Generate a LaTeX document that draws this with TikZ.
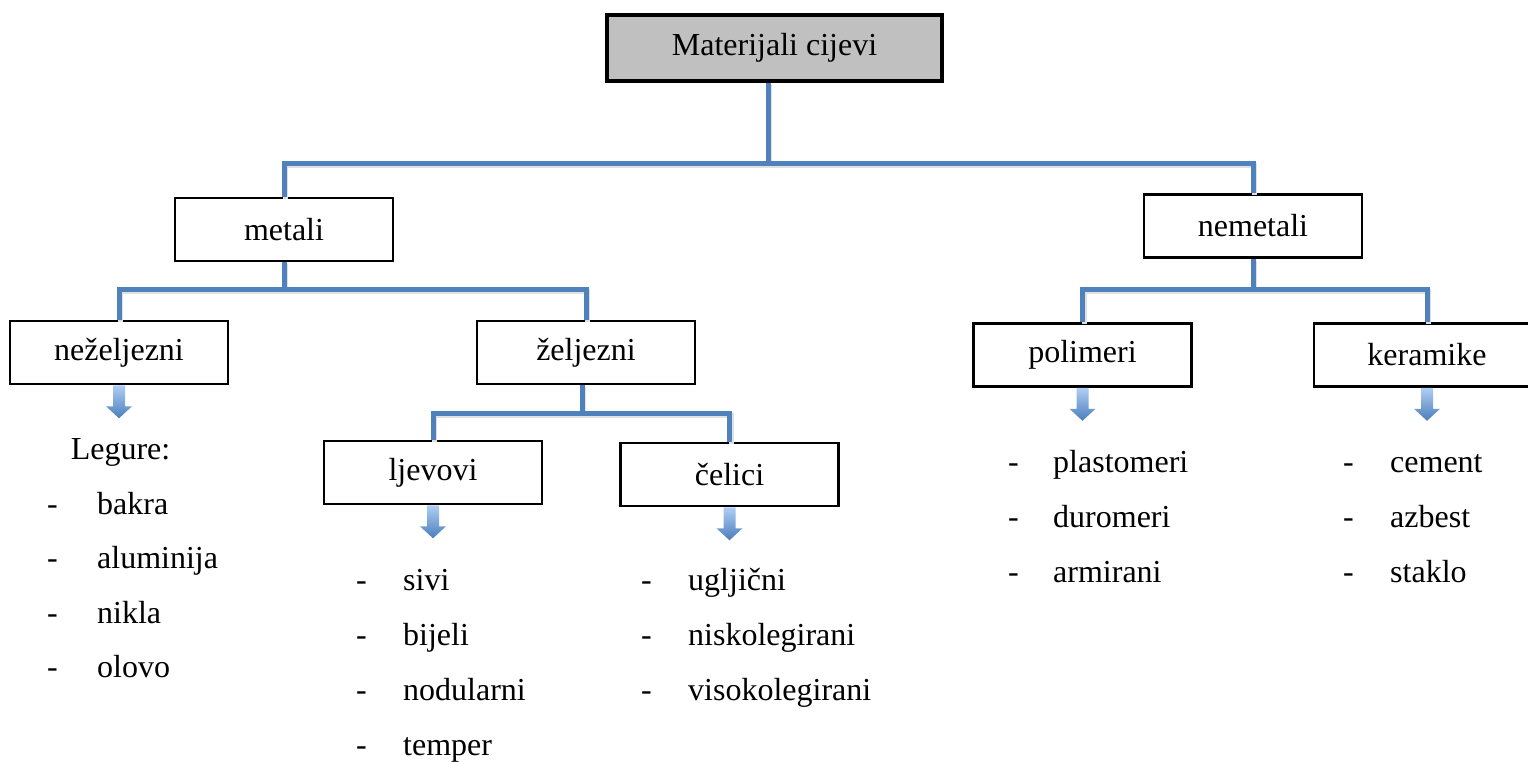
\documentclass[tikz,border=0pt]{standalone}
\usepackage{fontspec}
\setmainfont{Liberation Serif}
\definecolor{linecol}{HTML}{4F81BD}
\definecolor{boxgray}{HTML}{C0C0C0}
\definecolor{arrowtop}{HTML}{B0CEF4}
\definecolor{arrowbot}{HTML}{4A7EBB}
\tikzset{
  box/.style={draw=black, line width=2.6bp, minimum width=218bp, minimum height=63bp,
    inner sep=0pt, font=\fontsize{32bp}{38bp}\selectfont},
  rootbox/.style={box, fill=boxgray, line width=3.8bp, minimum width=335bp, minimum height=66bp},
  branch/.style={draw=linecol, line width=5bp,
    preaction={draw=black!12, line width=5bp, transform canvas={shift={(1.5bp,-2bp)}}}},
  item/.style={anchor=base west, inner sep=0pt, font=\fontsize{32bp}{38bp}\selectfont},
  blockarrow/.style={top color=arrowtop, bottom color=arrowbot, draw=none},
}
% block arrow under a box
\newcommand{\listarrow}[1]{%
  \shade[blockarrow] ([xshift=-6bp]#1.south) -- ++(0,21) -- ++(-7,0) -- ++(13,12)
    -- ++(13,-12) -- ++(-7,0) -- ++(0,-21) -- cycle;}
\begin{document}
\begin{tikzpicture}[x=1bp,y=-1bp,line join=miter]
\useasboundingbox (0,0) rectangle (1528,762);
%%
  % Node: Materijali cijevi
  \node[rootbox] (root) at (774.5,48) {Materijali cijevi};
  % Node: metali
  \node[box] (metali) at (284,229.5) {metali};
  % Node: nemetali
  \node[box] (nemetali) at (1253,226) {nemetali};
  % Node: neželjezni
  \node[box] (nezeljezni) at (119,352.5) {neželjezni};
  % Node: željezni
  \node[box] (zeljezni) at (586,352.5) {željezni};
  % Node: ljevovi
  \node[box] (ljevovi) at (433,472.5) {ljevovi};
  % Node: čelici
  \node[box] (celici) at (729.5,474.5) {čelici};
  % Node: polimeri
  \node[box] (polimeri) at (1082.5,355) {polimeri};
  % Node: keramike
  \node[box, minimum width=226bp] (keramike) at (1427,355) {keramike};
%%
  \coordinate (jroot) at (768,163);
  \coordinate (jmet) at (metali.south |- 0,289);
  \coordinate (jzel) at (582,413);
  \coordinate (jnem) at (nemetali.south |- 0,289);
  % Edge: Materijali cijevi -> metali, nemetali
  \draw[branch] (root.south -| jroot) -- (jroot);
  \draw[branch] (metali.north) |- (jroot) -| (nemetali.north);
  % Edge: metali -> neželjezni, željezni
  \draw[branch] (metali) -- (jmet);
  \draw[branch] (nezeljezni.north) |- (jmet) -| (zeljezni.north);
  % Edge: željezni -> ljevovi, čelici
  \draw[branch] (zeljezni.south -| jzel) -- (jzel);
  \draw[branch] (ljevovi.north) |- (jzel) -| (celici.north);
  % Edge: nemetali -> polimeri, keramike
  \draw[branch] (nemetali) -- (jnem);
  \draw[branch] (polimeri.north) |- (jnem) -| (keramike.north);
%%
  \listarrow{nezeljezni}
  \listarrow{ljevovi}
  \listarrow{celici}
  \listarrow{polimeri}
  \listarrow{keramike}
%%
  % List: neželjezni
  \node[item, anchor=base] (legure) at (120.5,459) {Legure:};
  \node[item] (dnz1) at (47,514) {-};   \node[item] (nz1) at (97,514) {bakra};
  \node[item] (dnz2) at (47,568.5) {-}; \node[item] (nz2) at (97,568.5) {aluminija};
  \node[item] (dnz3) at (47,623) {-};   \node[item] (nz3) at (97,623) {nikla};
  \node[item] (dnz4) at (47,677.5) {-}; \node[item] (nz4) at (97,677.5) {olovo};
  % List: ljevovi
  \node[item] (dlj1) at (356,590) {-}; \node[item] (lj1) at (403,590) {sivi};
  \node[item] (dlj2) at (356,645) {-}; \node[item] (lj2) at (403,645) {bijeli};
  \node[item] (dlj3) at (356,700) {-}; \node[item] (lj3) at (403,700) {nodularni};
  \node[item] (dlj4) at (356,755) {-}; \node[item] (lj4) at (403,755) {temper};
  % List: čelici
  \node[item] (dce1) at (641,590) {-}; \node[item] (ce1) at (688,590) {ugljični};
  \node[item] (dce2) at (641,645) {-}; \node[item] (ce2) at (688,645) {niskolegirani};
  \node[item] (dce3) at (641,700) {-}; \node[item] (ce3) at (688,700) {visokolegirani};
  % List: polimeri
  \node[item] (dpo1) at (1008,472) {-}; \node[item] (po1) at (1053,472) {plastomeri};
  \node[item] (dpo2) at (1008,527) {-}; \node[item] (po2) at (1053,527) {duromeri};
  \node[item] (dpo3) at (1008,582) {-}; \node[item] (po3) at (1053,582) {armirani};
  % List: keramike
  \node[item] (dke1) at (1343,472) {-}; \node[item] (ke1) at (1390,472) {cement};
  \node[item] (dke2) at (1343,527) {-}; \node[item] (ke2) at (1390,527) {azbest};
  \node[item] (dke3) at (1343,582) {-}; \node[item] (ke3) at (1390,582) {staklo};
%
\end{tikzpicture}
\end{document}
